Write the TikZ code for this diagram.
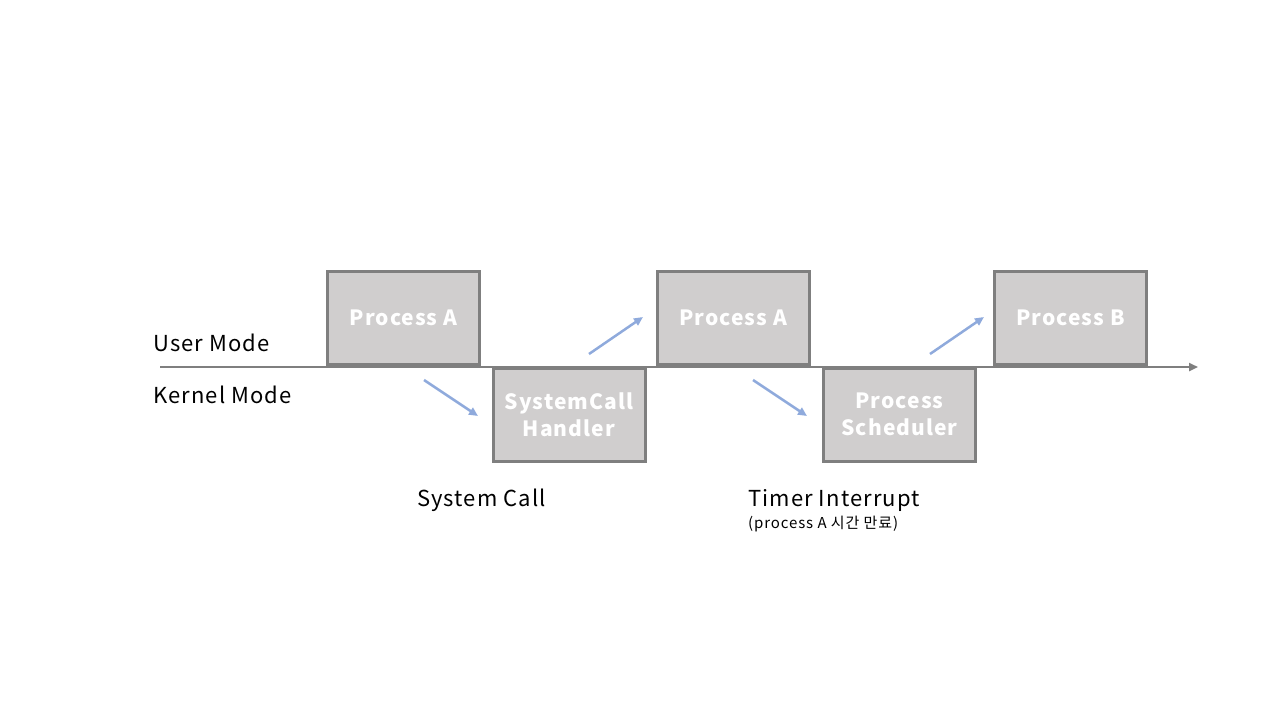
\documentclass[tikz,border=0pt]{standalone}
\usepackage{fontspec}
\setmainfont{Noto Sans CJK KR}
\newfontfamily\spacedfont[LetterSpace=5]{Noto Sans CJK KR}
\newfontfamily\smallspacedfont[LetterSpace=6]{Noto Sans CJK KR}
\usetikzlibrary{arrows.meta}
\definecolor{boxfill}{HTML}{D0CECE}
\definecolor{boxline}{HTML}{7F7F7F}
\definecolor{arrowblue}{HTML}{8FAADC}
\tikzset{
  procbox/.style={draw=boxline, line width=3pt, fill=boxfill, minimum width=152pt, minimum height=93pt, inner sep=0pt, align=center, text=white, font=\spacedfont\fontsize{21}{27}\selectfont\bfseries},
  axisline/.style={draw=boxline, line width=2.5pt, -{Triangle[length=9pt,width=8pt]}},
  flowarrow/.style={draw=arrowblue, line width=2.5pt, -{Triangle[length=9pt,width=8pt]}},
  lbl/.style={anchor=west, inner sep=0pt, font=\spacedfont\fontsize{22}{26}\selectfont},
  smalllbl/.style={anchor=west, inner sep=0pt, font=\smallspacedfont\fontsize{15}{18}\selectfont}
}
\begin{document}
\begin{tikzpicture}[x=1pt,y=-1pt]
\useasboundingbox (0,0) rectangle (1280,720);
\coordinate (axstart) at (160,367);
\coordinate (axend) at (1198,367);
\draw[axisline] (axstart) -- (axend);
\node[procbox] (pa1) at (403.5,318) {Process A};
\node[procbox] (sch) at (569,414.5) {SystemCall\\Handler};
\node[procbox] (pa2) at (733,318) {Process A};
\node[procbox] (psc) at (899.5,414.5) {Process\\Scheduler};
\node[procbox] (pb) at (1070.5,318) {Process B};
\node[lbl] (um) at (153,343) {User Mode};
\node[lbl] (km) at (153,395) {Kernel Mode};
\node[lbl] (sc) at (417,500) {System Call};
\node[lbl] (ti) at (748,500) {Timer Interrupt};
\node[smalllbl] (tisub) at (748,524) {(process A 시간 만료)};
\coordinate (a1s) at (424,380); \coordinate (a1e) at (478,416);
\coordinate (a2s) at (589,354); \coordinate (a2e) at (643,317);
\coordinate (a3s) at (753,380); \coordinate (a3e) at (807,416);
\coordinate (a4s) at (930,354); \coordinate (a4e) at (984,317);
\draw[flowarrow] (a1s) -- (a1e);
\draw[flowarrow] (a2s) -- (a2e);
\draw[flowarrow] (a3s) -- (a3e);
\draw[flowarrow] (a4s) -- (a4e);
\end{tikzpicture}
\end{document}
